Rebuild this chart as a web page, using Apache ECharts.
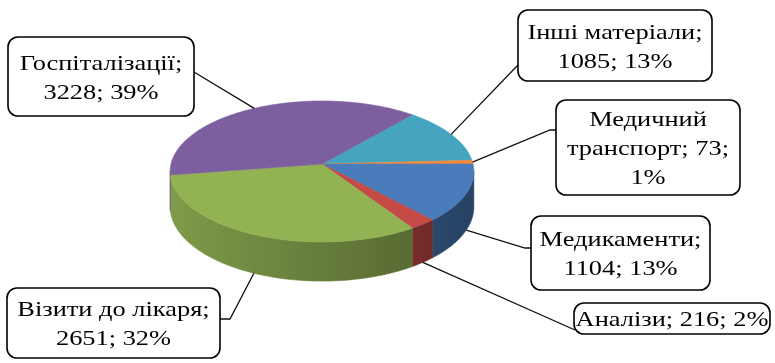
<!DOCTYPE html>
<html>
<head>
<meta charset="utf-8">
<script src="https://cdn.jsdelivr.net/npm/echarts@6/dist/echarts.min.js"></script>
<style>
  html, body { margin: 0; padding: 0; background: #ffffff; }
  #chart { width: 775px; height: 363px; }
</style>
</head>
<body>
<div id="chart"></div>
<script>
// Cost structure: categories in clockwise order, starting from the first slice
const categories = ['Інші матеріали', 'Медичний транспорт', 'Медикаменти', 'Аналізи', 'Візити до лікаря', 'Госпіталізації'];
const values = [1085, 73, 1104, 216, 2651, 3228];
const percents = [13, 1, 13, 2, 32, 39];

// Slice colours (top face); walls are shaded from these
const sliceColors = ['#45A5C0', '#F08A3E', '#4A7CBC', '#C44A46', '#92B254', '#7D5FA0'];

// Tilted pie geometry (pixels); start is the clock angle of the first slice edge
const PIE = { cx: 322, cy: 164, rx: 151, ry: 69.7, persp: 0.106, depth: 35, start: 40.2 };

// Label boxes: [x, y, w, h], words per line, leader attach point and elbow stub
const LABELS = [
  { box: [518, 10, 194, 71], lines: [2, 2], attach: [518, 65], stub: 0 },
  { box: [556, 100, 184, 95], lines: [1, 2, 1], attach: [556, 130], stub: -6 },
  { box: [531, 216, 179, 74], lines: [1, 2], attach: [531, 248], stub: -6 },
  { box: [574, 303, 196, 31], lines: [3], attach: [575, 330], stub: 0 },
  { box: [7, 288, 213, 70], lines: [3, 2], attach: [220, 319], stub: 10 },
  { box: [8, 37, 186, 79], lines: [1, 2], attach: [194, 72], stub: 0 }
];
const LABEL_FAMILY = 'Liberation Serif';

const total = values.reduce((a, b) => a + b, 0);
const angles = [];
let acc = PIE.start;
values.forEach(v => {
  const span = v / total * 360;
  angles.push([acc, acc + span]);
  acc += span;
});

// clock angle (0 = top, clockwise) -> screen point on the rim, h = drop below top face
function proj(clock, h) {
  const phi = (clock - 90) * Math.PI / 180;
  const u = Math.cos(phi), v = Math.sin(phi);
  const p = 1 / (1 - PIE.persp * v);
  return [PIE.cx + PIE.rx * u * p, PIE.cy + PIE.ry * v * p + h * p];
}

function arc(a0, a1, h) {
  const n = Math.max(2, Math.ceil(Math.abs(a1 - a0)));
  const pts = [];
  for (let i = 0; i <= n; i++) pts.push(proj(a0 + (a1 - a0) * i / n, h));
  return pts;
}

function shade(hex, f) {
  const n = parseInt(hex.slice(1), 16);
  const c = [(n >> 16) & 255, (n >> 8) & 255, n & 255].map(x => Math.max(0, Math.min(255, Math.round(x * f))));
  return 'rgb(' + c.join(',') + ')';
}

// light comes from the left: walls get darker towards the right
function wallLight(clock) {
  const phi = (clock - 90) * Math.PI / 180;
  return 0.7 - 0.18 * Math.cos(phi);
}

// the outer wall is visible between the two silhouette tangent points
const SIL = Math.asin(PIE.persp) * 180 / Math.PI;
const WALL_RANGES = [[90 + SIL, 270 - SIL], [450 + SIL, 630 - SIL]];

function labelText(i) {
  const tokens = (categories[i] + '; ' + values[i] + '; ' + percents[i] + '%').split(' ');
  const out = [];
  let k = 0;
  LABELS[i].lines.forEach(n => { out.push(tokens.slice(k, k + n).join(' ')); k += n; });
  return out.join('\n');
}

function renderItem(params, api) {
  const i = params.dataIndex;
  const a0 = angles[i][0], a1 = angles[i][1];
  const color = sliceColors[i];
  const children = [];

  WALL_RANGES.forEach(w => {
    const s = Math.max(a0, w[0]), e = Math.min(a1, w[1]);
    if (e <= s) return;
    const top = arc(s, e, 0);
    const bot = arc(s, e, PIE.depth).reverse();
    const n = 10;
    const samples = [];
    for (let k = 0; k <= n; k++) {
      const c = s + (e - s) * k / n;
      samples.push({ x: proj(c, 0)[0], color: shade(color, wallLight(c)) });
    }
    const xs = samples.map(p => p.x);
    const xmin = Math.min.apply(null, xs), xmax = Math.max.apply(null, xs);
    const span = Math.max(xmax - xmin, 1);
    const stops = samples.map(p => ({
      offset: Math.min(1, Math.max(0, (p.x - xmin) / span)),
      color: p.color
    })).sort((p, q) => p.offset - q.offset);
    const grad = { type: 'linear', x: xmin, y: 0, x2: xmin + span, y2: 0, global: true, colorStops: stops };
    children.push({
      type: 'polygon', z2: 1,
      shape: { points: top.concat(bot) },
      style: { fill: grad, stroke: grad, lineWidth: 0.6 }
    });
  });

  // top face
  children.push({
    type: 'polygon', z2: 2,
    shape: { points: [[PIE.cx, PIE.cy]].concat(arc(a0, a1, 0)) },
    style: { fill: color, stroke: color, lineWidth: 0.6 }
  });

  // leader line from the slice rim (bottom edge on the front half)
  const mid = (a0 + a1) / 2;
  const m = ((mid % 360) + 360) % 360;
  const front = m > 90 && m < 270;
  const anchor = proj(mid, front ? PIE.depth : 0);
  const L = LABELS[i];
  const elbow = [L.attach[0] + L.stub, L.attach[1]];
  children.push({
    type: 'polyline', z2: 3,
    shape: { points: [anchor, elbow, L.attach] },
    style: { stroke: '#111', lineWidth: 1.3, fill: null }
  });

  return { type: 'group', children: children };
}

// label boxes with their text
const labelGraphics = [];
LABELS.forEach((L, i) => {
  const b = L.box;
  labelGraphics.push({
    type: 'rect', z: 10, silent: true,
    shape: { x: b[0], y: b[1], width: b[2], height: b[3], r: 10 },
    style: { fill: '#ffffff', stroke: '#000', lineWidth: 1.6 }
  });
  labelGraphics.push({
    type: 'text', z: 11, silent: true,
    x: b[0] + b[2] / 2, y: b[1] + b[3] / 2 + 2,
    scaleX: 1.2,
    style: {
      text: labelText(i),
      fontFamily: LABEL_FAMILY, fontSize: 22, lineHeight: 29,
      fill: '#000', align: 'center', verticalAlign: 'middle'
    }
  });
});

const chart = echarts.init(document.getElementById('chart'), null, { renderer: 'canvas' });
chart.setOption({
  backgroundColor: '#ffffff',
  animation: false,
  series: [{
    type: 'custom',
    coordinateSystem: 'none',
    silent: true,
    renderItem: renderItem,
    data: values.map((v, i) => ({ name: categories[i], value: v }))
  }],
  graphic: labelGraphics
});
</script>
</body>
</html>
